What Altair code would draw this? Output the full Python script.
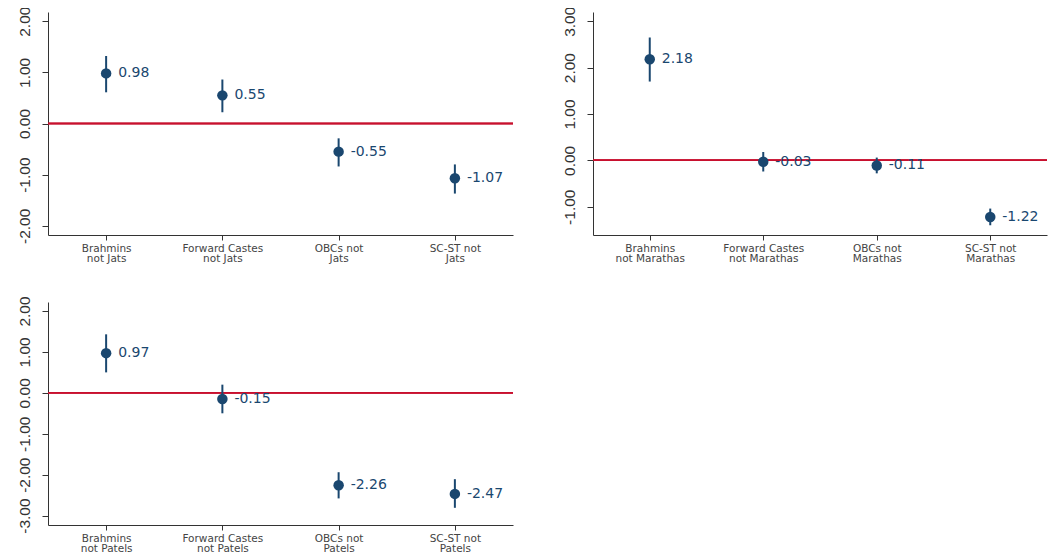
import altair as alt
import pandas as pd

# ---- data ----
jat_labels = ["Brahmins|not Jats", "Forward Castes|not Jats", "OBCs not|Jats", "SC-ST not|Jats"]
jat_est = [0.98, 0.55, -0.55, -1.07]
jat_lo = [0.61, 0.22, -0.84, -1.37]
jat_hi = [1.32, 0.86, -0.29, -0.80]
jat_ticks = [-2, -1, 0, 1, 2]
jat_domain = [-2.18, 2.18]

mar_labels = ["Brahmins|not Marathas", "Forward Castes|not Marathas", "OBCs not|Marathas", "SC-ST not|Marathas"]
mar_est = [2.18, -0.03, -0.11, -1.22]
mar_lo = [1.70, -0.24, -0.28, -1.40]
mar_hi = [2.65, 0.18, 0.06, -1.04]
mar_ticks = [-1, 0, 1, 2, 3]
mar_domain = [-1.61, 3.20]

pat_labels = ["Brahmins|not Patels", "Forward Castes|not Patels", "OBCs not|Patels", "SC-ST not|Patels"]
pat_est = [0.97, -0.15, -2.26, -2.47]
pat_lo = [0.50, -0.50, -2.58, -2.81]
pat_hi = [1.43, 0.20, -1.94, -2.11]
pat_ticks = [-3, -2, -1, 0, 1, 2]
pat_domain = [-3.23, 2.22]

NAVY = "#1a476f"
RED = "#c8102e"
AXIS = "#333333"


def panel(labels, est, lo, hi, ticks, domain, width, height=223):
    df = pd.DataFrame({"group": labels, "est": est, "lo": lo, "hi": hi})
    x = alt.X(
        "group:N",
        sort=labels,
        scale=alt.Scale(type="point", padding=0.5),
        axis=alt.Axis(
            title=None,
            labelExpr="split(datum.value, '|')",
            labelAngle=0,
            labelFont="DejaVu Sans",
            labelFontSize=10.5,
            labelLineHeight=10,
            labelColor="#444444",
            tickSize=5,
            labelPadding=3,
            domainColor=AXIS,
            tickColor=AXIS,
            grid=False,
        ),
    )
    y_scale = alt.Scale(domain=domain, nice=False, zero=False)
    y_axis = alt.Axis(
        title=None,
        values=ticks,
        labelExpr="replace(format(datum.value, '.2f'), '\u2212', '-')",
        labelAngle=270,
        labelAlign="center",
        labelBaseline="alphabetic",
        labelFont="Liberation Sans",
        labelFontSize=15.5,
        labelColor=AXIS,
        tickSize=6,
        labelPadding=13,
        grid=False,
        domainColor=AXIS,
        tickColor=AXIS,
    )
    base = alt.Chart(df)
    zero = base.mark_rule(color=RED, strokeWidth=1.5).encode(
        y=alt.datum(0, scale=y_scale, axis=y_axis)
    )
    bars = base.mark_rule(color=NAVY, strokeWidth=2).encode(
        x=x, y=alt.Y("lo:Q", scale=y_scale, axis=y_axis), y2="hi:Q"
    )
    pts = base.mark_circle(color=NAVY, size=110, opacity=1).encode(
        x=x, y=alt.Y("est:Q", scale=y_scale, axis=y_axis)
    )
    txt = (
        base.transform_calculate(lbl="replace(format(datum.est, '.2f'), '\u2212', '-')")
        .mark_text(align="left", baseline="middle", dx=12, font="DejaVu Sans",
                   fontSize=14, color=NAVY)
        .encode(x=x, y=alt.Y("est:Q", scale=y_scale, axis=y_axis), text="lbl:N")
    )
    return alt.layer(zero, bars, pts, txt).properties(width=width, height=height)


p1 = panel(jat_labels, jat_est, jat_lo, jat_hi, jat_ticks, jat_domain, 465)
p2 = panel(mar_labels, mar_est, mar_lo, mar_hi, mar_ticks, mar_domain, 454)
p3 = panel(pat_labels, pat_est, pat_lo, pat_hi, pat_ticks, pat_domain, 465)

chart = (
    alt.vconcat(alt.hconcat(p1, p2, spacing=47), p3, spacing=31)
    .properties(padding={"left": 8, "top": -2, "right": 0, "bottom": 0}, background="white")
    .configure_view(stroke=None)
)

chart.save("out.html", embed_options={"renderer": "svg", "actions": False})
